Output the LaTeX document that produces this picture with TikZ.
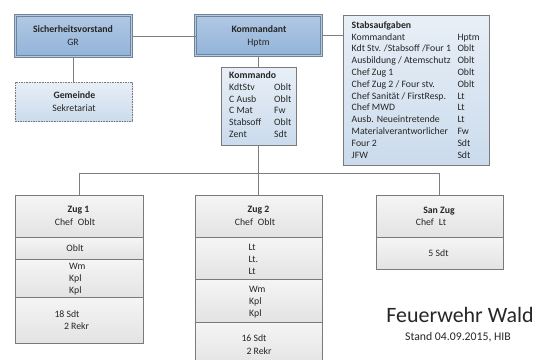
\documentclass[tikz,border=0pt]{standalone}
\usepackage{fontspec}
\setmainfont{Carlito}
\usetikzlibrary{shadows}
\definecolor{linec}{HTML}{7F7F7F}
\definecolor{bordc}{HTML}{7A7A7A}
\definecolor{dbord}{HTML}{6F8399}
\definecolor{dbtop}{HTML}{B0C8E4}
\definecolor{dbbot}{HTML}{93B3D9}
\definecolor{dbgap}{HTML}{B5CBE5}
\definecolor{lbtop}{HTML}{E8EFF7}
\definecolor{lbbot}{HTML}{CBDBEC}
\definecolor{grtop}{HTML}{F5F5F5}
\definecolor{grbot}{HTML}{E3E3E3}
\definecolor{txt}{HTML}{262626}
\begin{document}
\begin{tikzpicture}[x=1bp,y=-1bp,
  shd/.style={drop shadow={shadow xshift=1.2bp,shadow yshift=-1.2bp,opacity=0.35,fill=black!45}},
  basebox/.style={rectangle,inner sep=0,outer sep=0,anchor=north west,shd},
  dbox/.style={basebox,draw=dbord,line width=0.6bp,double=dbgap,double distance=1.4bp,top color=dbtop,bottom color=dbbot},
  lbox/.style={basebox,draw=bordc,line width=0.7bp,top color=lbtop,bottom color=lbbot},
  gbox/.style={basebox,draw=bordc,line width=0.7bp,top color=grtop,bottom color=grbot},
  conn/.style={draw=linec,line width=1bp},
  fs/.style={font=\fontsize{9.8}{11.8}\selectfont},
  tc/.style={fs,text=txt,inner sep=0,anchor=base},
  tb/.style={tc,font=\fontsize{9.8}{11.8}\selectfont\bfseries},
  tl/.style={tc,anchor=base west},
  tlb/.style={tb,anchor=base west}]
\useasboundingbox (0,0) rectangle (549,359);
\clip (0,0) rectangle (549,359);

% top row
\node[dbox,minimum width=116bp,minimum height=41bp] (sv) at (15.5,15.5) {};
\node[dbox,minimum width=126bp,minimum height=40bp] (kdt) at (195.5,15.5) {};
\node[lbox,minimum width=146bp,minimum height=150bp] (stab) at (343,15) {};
\node[lbox,dash pattern=on 1.6bp off 1bp,minimum width=117bp,minimum height=39bp] (gem) at (15,82) {};
\node[lbox,minimum width=75bp,minimum height=78bp] (kdo) at (221,67) {};

% Zug 1
\node[gbox,minimum width=128bp,minimum height=42bp] (z1a) at (15,195) {};
\node[gbox,minimum width=128bp,minimum height=22bp] (z1b) at (15,237) {};
\node[gbox,minimum width=128bp,minimum height=38bp] (z1c) at (15,259) {};
\node[gbox,minimum width=128bp,minimum height=46bp] (z1d) at (15,297) {};
% Zug 2
\node[gbox,minimum width=127bp,minimum height=42bp] (z2a) at (195,195) {};
\node[gbox,minimum width=127bp,minimum height=42bp] (z2b) at (195,237) {};
\node[gbox,minimum width=127bp,minimum height=43bp] (z2c) at (195,279) {};
\node[gbox,minimum width=127bp,minimum height=45bp] (z2d) at (195,322) {};
% San Zug
\node[gbox,minimum width=127bp,minimum height=42bp] (s1) at (376,195) {};
\node[gbox,minimum width=127bp,minimum height=32bp] (s2) at (376,237) {};

% connectors
\coordinate (bus) at (258.5,173.5);
\draw[conn] (sv.east) -- (sv.east -| kdt.west);
\draw[conn] (kdt.east) -- (kdt.east -| stab.west);
\draw[conn] (sv.south) -- (sv.south |- gem.north);
\draw[conn] (kdt.south) -- (kdt.south |- kdo.north);
\draw[conn] (kdo.south) -- (kdo.south |- z2a.north);
\draw[conn] (z1a.north) -- (z1a.north |- bus) -- (s1.north |- bus) -- (s1.north);

% texts top
\node[tb] (svt1) at (73,32.2) {Sicherheitsvorstand};
\node[tc] (svt2) at (73,45.2) {GR};
\node[tb] (kdtt1) at (259,32.2) {Kommandant};
\node[tc] (kdtt2) at (258.5,45.2) {Hptm};
\node[tb] (gemt1) at (74.5,98.2) {Gemeinde};
\node[tc] (gemt2) at (74,111.2) {Sekretariat};

% Kommando
\node[tlb] (kdoh) at (229,78.2) {Kommando};
\node[tl] (kdol1) at (229,90.2) {KdtStv};
\node[tl] (kdol2) at (229,102.1) {C Ausb};
\node[tl] (kdol3) at (229,113.9) {C Mat};
\node[tl] (kdol4) at (229,125.5) {Stabsoff};
\node[tl] (kdol5) at (229,137.3) {Zent};
\node[tl] (kdor1) at (274,90.2) {Oblt};
\node[tl] (kdor2) at (274,102.1) {Oblt};
\node[tl] (kdor3) at (274,113.9) {Fw};
\node[tl] (kdor4) at (274,125.5) {Oblt};
\node[tl] (kdor5) at (274,137.3) {Sdt};

% Stabsaufgaben
\node[tlb] (sth) at (351.5,28.2) {Stabsaufgaben};
\node[tl] (stl1) at (351.5,40.0) {Kommandant};
\node[tl] (stl2) at (351.5,51.8) {Kdt Stv. /Stabsoff /Four 1};
\node[tl] (stl3) at (351.5,63.6) {Ausbildung / Atemschutz};
\node[tl] (stl4) at (351.5,75.4) {Chef Zug 1};
\node[tl] (stl5) at (351.5,87.2) {Chef Zug 2 / Four stv.};
\node[tl] (stl6) at (351.5,99.0) {Chef Sanität / FirstResp.};
\node[tl] (stl7) at (351.5,110.8) {Chef MWD};
\node[tl] (stl8) at (351.5,122.6) {Ausb. Neueintretende};
\node[tl] (stl9) at (351.5,134.4) {Materialverantworlicher};
\node[tl] (stl10) at (351.5,146.2) {Four 2};
\node[tl] (stl11) at (351.5,158.0) {JFW};
\node[tl] (str1) at (457.3,40.0) {Hptm};
\node[tl] (str2) at (457.3,51.8) {Oblt};
\node[tl] (str3) at (457.3,63.6) {Oblt};
\node[tl] (str4) at (457.3,75.4) {Oblt};
\node[tl] (str5) at (457.3,87.2) {Oblt};
\node[tl] (str6) at (457.3,99.0) {Lt};
\node[tl] (str7) at (457.3,110.8) {Lt};
\node[tl] (str8) at (457.3,122.6) {Lt};
\node[tl] (str9) at (457.3,134.4) {Fw};
\node[tl] (str10) at (457.3,146.2) {Sdt};
\node[tl] (str11) at (457.3,158.0) {Sdt};

% Zug 1 texts
\node[tb] (z1t1) at (78.5,212.2) {Zug 1};
\node[tc] (z1t2) at (75,225.5) {Chef\hspace{5bp}Oblt};
\node[tc] (z1t3) at (75,251.2) {Oblt};
\node[tl] (z1t4) at (69,269.2) {Wm};
\node[tl] (z1t5) at (69,281.4) {Kpl};
\node[tl] (z1t6) at (69,293.3) {Kpl};
\node[tc] (z1t7) at (67,317.5) {18 Sdt};
\node[tc] (z1t8) at (76.5,329.4) {2 Rekr};

% Zug 2 texts
\node[tb] (z2t1) at (258.5,212.2) {Zug 2};
\node[tc] (z2t2) at (255,225.5) {Chef\hspace{5bp}Oblt};
\node[tl] (z2t3) at (248.3,250.0) {Lt};
\node[tl] (z2t4) at (248.3,262.2) {Lt.};
\node[tl] (z2t5) at (248.3,274.0) {Lt};
\node[tl] (z2t6) at (249,292.2) {Wm};
\node[tl] (z2t7) at (249,304.0) {Kpl};
\node[tl] (z2t8) at (249,316.0) {Kpl};
\node[tc] (z2t9) at (254,341.5) {16 Sdt};
\node[tc] (z2t10) at (259,354.0) {2 Rekr};

% San Zug texts
\node[tb] (st1) at (439,213.2) {San Zug};
\node[tc] (st2) at (431,225.5) {Chef\hspace{5bp}Lt};
\node[tc] (st3) at (438.5,256.0) {5 Sdt};

% footer
\node[inner sep=0,anchor=base,text=txt,font=\fontsize{22}{25}\selectfont] (title) at (460,322.3) {Feuerwehr Wald};
\node[inner sep=0,anchor=base,text=txt,font=\fontsize{11.8}{13}\selectfont] (stand) at (458,340) {Stand 04.09.2015, HIB};
\end{tikzpicture}
\end{document}
